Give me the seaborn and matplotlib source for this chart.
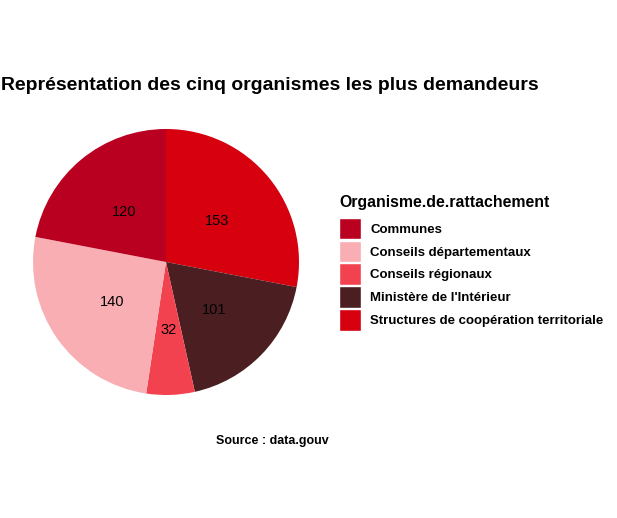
import matplotlib
matplotlib.use("Agg")
import matplotlib.pyplot as plt
import seaborn as sns
from matplotlib.patches import Patch

# données -------------------------------------------------------------------
organismes = ["Communes", "Conseils départementaux", "Conseils régionaux",
              "Ministère de l'Intérieur", "Structures de coopération territoriale"]
demandes = [120, 140, 32, 101, 153]
couleurs = ["#BA0020", "#F8AEB3", "#F3424F", "#4B1F21", "#D6000F"]

titre = "Représentation des cinq organismes les plus demandeurs"
titre_legende = "Organisme.de.rattachement"
source = "Source : data.gouv"

# style ---------------------------------------------------------------------
sns.set_theme(style="white")
plt.rcParams["font.family"] = ["Liberation Sans", "DejaVu Sans"]
plt.rcParams["text.color"] = "black"
palette = sns.color_palette(couleurs)

W, H = 617, 518
fig = plt.figure(figsize=(W / 100, H / 100), dpi=100)

# camembert : départ à midi, sens horaire, ordre inverse comme ggplot
cx, cy, r = 166, 262, 133
ax = fig.add_axes([(cx - r) / W, (H - cy - r) / H, 2 * r / W, 2 * r / H])
ordre = list(range(len(organismes)))[::-1]
wedges, textes = ax.pie([demandes[i] for i in ordre],
                        colors=[palette[i] for i in ordre],
                        labels=[str(demandes[i]) for i in ordre],
                        labeldistance=0.5, startangle=90, counterclock=False,
                        radius=1, wedgeprops=dict(linewidth=0),
                        textprops=dict(fontsize=10.5, color="black", ha="center", va="center_baseline"))
ax.set_xlim(-1, 1)
ax.set_ylim(-1, 1)
ax.set_aspect("equal")
ax.axis("off")

fig.text(1 / W, 1 - 86 / H, titre, fontsize=13.95, fontweight="bold", ha="left", va="center",
         color="black")

poignees = [Patch(facecolor=palette[i], edgecolor="white", linewidth=1.0) for i in range(len(organismes))]
leg = fig.legend(poignees, organismes, title=titre_legende, loc="upper left",
                 bbox_to_anchor=(339 / W, 1 - 195 / H), frameon=False,
                 prop=dict(size=9.5, weight="bold"), title_fontproperties=dict(size=11.4, weight="bold"),
                 handlelength=1.65, handleheight=2.15, handletextpad=0.7, labelspacing=0.09,
                 borderaxespad=0, borderpad=0)
leg._legend_box.align = "left"
leg._legend_box.sep = 5.6  # écart entre le titre et les clés
for t in leg.get_texts():
    t.set_color("black")
leg.get_title().set_color("black")

fig.text(272 / W, 1 - 441 / H, source, fontsize=9, fontweight="bold", ha="center", va="center",
         color="black")

fig.savefig("out.png", dpi=100, facecolor="white")
